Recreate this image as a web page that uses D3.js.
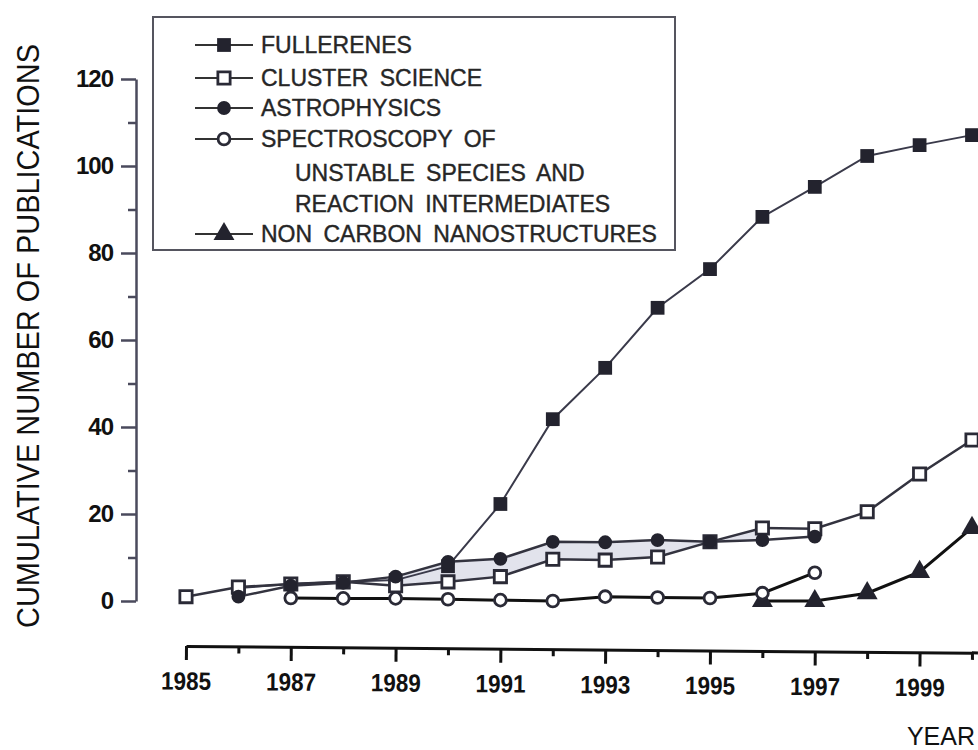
<!DOCTYPE html>
<html>
<head>
<meta charset="utf-8">
<script src="https://cdn.jsdelivr.net/npm/d3@7"></script>
<style>
  body { margin: 0; background: #fff; }
  svg { display: block; font-family: "Liberation Sans", Arial, sans-serif; }
</style>
</head>
<body>
<script>
const WIDTH = 978;
const HEIGHT = 750;

// ticks
const yearLabels = [1985, 1987, 1989, 1991, 1993, 1995, 1997, 1999];
const yearMinor = [1986, 1988, 1990, 1992, 1994, 1996, 1998, 2000];
const yLabels = [0, 20, 40, 60, 80, 100, 120];
const yMinor = [10, 30, 50, 70, 90, 110];

// series
const fullerenesYears = [1986, 1987, 1988, 1989, 1990, 1991, 1992, 1993, 1994, 1995, 1996, 1997, 1998, 1999, 2000];
const fullerenesValues = [3, 3.9, 4.4, 4.8, 8, 22.3, 41.8, 53.6, 67.4, 76.3, 88.3, 95.2, 102.3, 104.8, 107.1];

const clusterYears = [1985, 1986, 1987, 1988, 1989, 1990, 1991, 1992, 1993, 1994, 1995, 1996, 1997, 1998, 1999, 2000];
const clusterValues = [1, 3.2, 3.9, 4.4, 3.5, 4.4, 5.6, 9.6, 9.4, 10.1, 13.6, 16.8, 16.6, 20.5, 29.2, 37];

const astroYears = [1986, 1987, 1988, 1989, 1990, 1991, 1992, 1993, 1994, 1995, 1996, 1997];
const astroValues = [1, 3.5, 4.2, 5.6, 9, 9.7, 13.6, 13.5, 14, 13.6, 14, 14.8];

const spectroYears = [1987, 1988, 1989, 1990, 1991, 1992, 1993, 1994, 1995, 1996, 1997];
const spectroValues = [0.7, 0.6, 0.6, 0.4, 0.2, 0, 1, 0.8, 0.7, 1.8, 6.5];

const nanoYears = [1996, 1997, 1998, 1999, 2000];
const nanoValues = [0, 0, 1.8, 6.7, 16.8];

const legendLabels = [
  ["FULLERENES"],
  ["CLUSTER SCIENCE"],
  ["ASTROPHYSICS"],
  ["SPECTROSCOPY OF", "UNSTABLE SPECIES AND", "REACTION INTERMEDIATES"],
  ["NON CARBON NANOSTRUCTURES"]
];

const series = [
  { years: fullerenesYears, values: fullerenesValues, marker: "square", filled: true, stroke: "#3a3a4a", width: 2 },
  { years: clusterYears, values: clusterValues, marker: "square", filled: false, stroke: "#33333f", width: 2.5 },
  { years: astroYears, values: astroValues, marker: "circle", filled: true, stroke: "#33333f", width: 2.5 },
  { years: nanoYears, values: nanoValues, marker: "triangle", filled: true, stroke: "#111", width: 3 },
  { years: spectroYears, values: spectroValues, marker: "circle", filled: false, stroke: "#111", width: 3 }
];
// legend order differs from draw order
const legendSeries = [series[0], series[1], series[2], series[4], series[3]];

const x = d3.scaleLinear().domain([1985, 2000]).range([186, 972]);
const y = d3.scaleLinear().domain([0, 120]).range([601, 79]);

const SVG = d3.select("body").append("svg")
  .attr("width", WIDTH)
  .attr("height", HEIGHT);

const symbolFor = (m) => m === "square" ? d3.symbolSquare : (m === "circle" ? d3.symbolCircle : d3.symbolTriangle);
const sizeFor = (m) => m === "square" ? 190 : (m === "circle" ? 150 : 190);

const drawMarker = (g, s) => {
  g.append("path")
    .attr("d", d3.symbol().type(symbolFor(s.marker)).size(s.filled ? sizeFor(s.marker) : sizeFor(s.marker) - 40)())
    .attr("fill", s.filled ? "#23232e" : "#fff")
    .attr("stroke", s.filled ? "none" : "#2a2a36")
    .attr("stroke-width", s.filled ? 0 : 2.8);
};

// light band between astrophysics and cluster science
const bandYears = [1989, 1990, 1991, 1992, 1993, 1994, 1995, 1996];
SVG.append("path")
  .datum(bandYears)
  .attr("fill", "#e2e3ec")
  .attr("d", d3.area()
    .x((d) => x(d))
    .y0((d) => y(clusterValues[clusterYears.indexOf(d)]))
    .y1((d) => y(astroValues[astroYears.indexOf(d)])));

// y axis
const yAxis = SVG.append("g").attr("transform", "translate(136,0)");
yAxis.call(d3.axisLeft(y).tickValues(yLabels).tickSize(15).tickSizeOuter(0).tickPadding(8));
yAxis.append("g").call(d3.axisLeft(y).tickValues(yMinor).tickSize(8).tickFormat(""))
  .select(".domain").remove();
yAxis.selectAll("path, line").attr("stroke", "#4a4a5c").attr("stroke-width", 2.5);
yAxis.selectAll("text")
  .attr("font-size", 24)
  .attr("font-weight", "bold")
  .attr("letter-spacing", -1)
  .attr("font-family", "Liberation Sans, Arial, sans-serif")
  .attr("fill", "#111");

// x axis (slightly tilted like the scan)
const xAxis = SVG.append("g").attr("transform", "translate(0,646) rotate(0.5,186,0)");
xAxis.call(d3.axisBottom(x).tickValues(yearLabels).tickFormat(d3.format("d")).tickSize(14).tickSizeOuter(0).tickPadding(12));
xAxis.append("g").call(d3.axisBottom(x).tickValues(yearMinor).tickSize(7).tickFormat(""))
  .select(".domain").remove();
xAxis.append("line").attr("x1", x(2000)).attr("x2", WIDTH).attr("y1", 0).attr("y2", 0);
xAxis.selectAll("path, line").attr("stroke", "#111").attr("stroke-width", 3);
xAxis.selectAll("text")
  .attr("font-size", 25)
  .attr("font-weight", "bold")
  .attr("font-family", "Liberation Sans, Arial, sans-serif")
  .attr("textLength", 50)
  .attr("lengthAdjust", "spacingAndGlyphs")
  .attr("fill", "#111");

SVG.append("text")
  .attr("x", 975).attr("y", 745)
  .attr("text-anchor", "end")
  .attr("font-size", 25)
  .attr("fill", "#111")
  .text("YEAR");

SVG.append("text")
  .attr("transform", "translate(39,336) rotate(-90)")
  .attr("text-anchor", "middle")
  .attr("font-size", 31)
  .attr("textLength", 584)
  .attr("lengthAdjust", "spacingAndGlyphs")
  .attr("fill", "#111")
  .text("CUMULATIVE NUMBER OF PUBLICATIONS");

// lines and markers
const line = d3.line().x((d) => x(d[0])).y((d) => y(d[1]));
series.forEach((s) => {
  const pts = s.years.map((yr, i) => [yr, s.values[i]]);
  SVG.append("path")
    .datum(pts)
    .attr("fill", "none")
    .attr("stroke", s.stroke)
    .attr("stroke-width", s.width)
    .attr("d", line);
  pts.forEach((p) => {
    const g = SVG.append("g").attr("transform", `translate(${x(p[0])},${y(p[1])})`);
    drawMarker(g, s);
  });
});

// legend
SVG.append("rect")
  .attr("x", 153).attr("y", 17)
  .attr("width", 522).attr("height", 233)
  .attr("fill", "#fff")
  .attr("stroke", "#55555f")
  .attr("stroke-width", 2);

const rowY = [[45], [78], [108], [139, 173, 204], [234]];
legendSeries.forEach((s, i) => {
  const cy = rowY[i][0];
  SVG.append("line")
    .attr("x1", 195).attr("x2", 253)
    .attr("y1", cy).attr("y2", cy)
    .attr("stroke", "#333")
    .attr("stroke-width", 2);
  const g = SVG.append("g").attr("transform", `translate(224,${cy})`);
  drawMarker(g, s);
  legendLabels[i].forEach((txt, j) => {
    SVG.append("text")
      .attr("x", j === 0 ? 261 : 295)
      .attr("y", rowY[i][j] + 8)
      .attr("font-size", 23)
      .attr("word-spacing", 5)
      .attr("fill", "#262626")
      .attr("stroke", "#262626")
      .attr("stroke-width", 0.4)
      .text(txt);
  });
});
</script>
</body>
</html>
